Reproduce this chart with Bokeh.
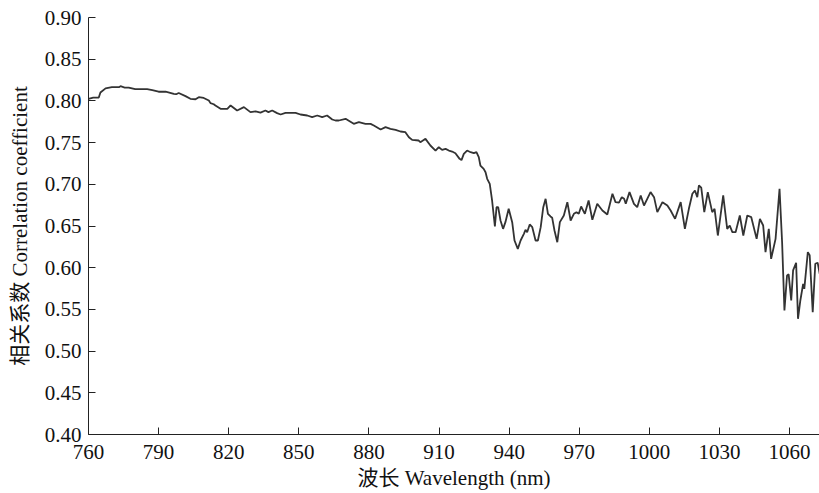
from bokeh.plotting import figure
from bokeh.models import Range1d, FixedTicker, NumeralTickFormatter
from bokeh.embed import file_html
from bokeh.resources import INLINE

wavelength = [
    760.0, 762.0, 764.4, 765.1, 767.3, 770.0, 773.0, 773.7, 775.5, 777.2,
    780.0, 785.1, 787.3, 790.0, 793.0, 796.5, 797.5, 798.6, 801.5, 803.6,
    805.8, 807.2, 809.3, 811.5, 812.2, 813.6, 814.3, 816.5, 819.4, 820.8,
    823.6, 826.5, 829.3, 831.5, 833.6, 835.7, 837.0, 838.6, 840.7, 842.2,
    844.3, 848.6, 850.7, 853.6, 855.7, 857.9, 860.0, 862.1, 864.3, 865.7,
    867.1, 870.0, 873.5, 875.7, 878.5, 880.7, 882.1, 885.0, 887.1, 889.2,
    891.4, 893.5, 895.6, 897.1, 898.5, 901.3, 902.0, 904.2, 906.3, 908.5,
    909.9, 911.3, 912.8, 914.2, 915.6, 917.0, 918.8, 919.6, 920.6, 922.0,
    923.5, 924.9, 926.0, 927.0, 927.7, 929.1, 929.9, 930.6, 931.7, 932.7,
    933.9, 934.6, 935.3, 936.3, 937.4, 938.4, 939.8, 941.3, 942.3, 943.7,
    944.9, 946.3, 947.0, 947.7, 948.8, 949.9, 951.3, 952.3, 953.5, 954.6,
    955.6, 956.6, 957.7, 958.4, 959.4, 960.6, 961.7, 963.4, 964.9, 966.3,
    967.7, 968.8, 969.8, 970.8, 972.4, 974.0, 975.6, 977.7, 979.9, 982.0,
    984.2, 985.5, 987.0, 988.2, 989.2, 989.9, 991.5, 993.4, 994.8, 996.3,
    997.7, 999.1, 1000.5, 1002.0, 1003.4, 1005.6, 1007.7, 1009.1, 1011.0, 1013.4,
    1015.2, 1016.9, 1018.4, 1019.5, 1020.5, 1021.2, 1022.2, 1023.5, 1025.0, 1026.9,
    1027.9, 1029.3, 1031.6, 1033.3, 1034.4, 1035.5, 1036.9, 1038.7, 1040.2, 1041.9,
    1043.6, 1045.9, 1047.3, 1048.7, 1049.7, 1051.1, 1052.1, 1054.0, 1055.7, 1056.8,
    1057.8, 1058.9, 1059.6, 1060.7, 1061.5, 1062.8, 1063.6, 1064.6, 1065.8, 1066.3,
    1067.8, 1068.6, 1069.9, 1071.0, 1072.0, 1072.9,
]

correlation = [
    0.8025, 0.8040, 0.8040, 0.8100, 0.8150, 0.8164, 0.8164, 0.8176, 0.8160, 0.8160,
    0.8140, 0.8140, 0.8130, 0.8110, 0.8110, 0.8085, 0.8080, 0.8095, 0.8057, 0.8025,
    0.8020, 0.8045, 0.8035, 0.8005, 0.7973, 0.7960, 0.7945, 0.7905, 0.7905, 0.7945,
    0.7885, 0.7925, 0.7865, 0.7875, 0.7860, 0.7885, 0.7865, 0.7885, 0.7853, 0.7837,
    0.7857, 0.7857, 0.7837, 0.7825, 0.7805, 0.7825, 0.7805, 0.7825, 0.7777, 0.7765,
    0.7765, 0.7785, 0.7725, 0.7745, 0.7725, 0.7725, 0.7705, 0.7657, 0.7685, 0.7665,
    0.7653, 0.7633, 0.7625, 0.7565, 0.7533, 0.7525, 0.7505, 0.7545, 0.7465, 0.7405,
    0.7445, 0.7413, 0.7425, 0.7405, 0.7393, 0.7373, 0.7305, 0.7290, 0.7365, 0.7405,
    0.7385, 0.7373, 0.7385, 0.7325, 0.7225, 0.7185, 0.7145, 0.7066, 0.7006, 0.6806,
    0.6494, 0.6725, 0.6727, 0.6566, 0.6466, 0.6546, 0.6706, 0.6546, 0.6326, 0.6226,
    0.6326, 0.6406, 0.6454, 0.6426, 0.6518, 0.6486, 0.6326, 0.6326, 0.6486, 0.6725,
    0.6826, 0.6646, 0.6614, 0.6600, 0.6446, 0.6306, 0.6546, 0.6626, 0.6786, 0.6566,
    0.6646, 0.6666, 0.6646, 0.6734, 0.6646, 0.6806, 0.6574, 0.6766, 0.6686, 0.6638,
    0.6886, 0.6786, 0.6780, 0.6846, 0.6826, 0.6766, 0.6906, 0.6766, 0.6726, 0.6866,
    0.6746, 0.6826, 0.6906, 0.6846, 0.6666, 0.6786, 0.6746, 0.6686, 0.6586, 0.6786,
    0.6466, 0.6706, 0.6886, 0.6926, 0.6846, 0.6986, 0.6960, 0.6666, 0.6906, 0.6666,
    0.6706, 0.6386, 0.6866, 0.6466, 0.6506, 0.6426, 0.6426, 0.6626, 0.6386, 0.6626,
    0.6606, 0.6346, 0.6586, 0.6506, 0.6186, 0.6466, 0.6106, 0.6346, 0.6946, 0.6306,
    0.5487, 0.5907, 0.5920, 0.5607, 0.5967, 0.6059, 0.5387, 0.5607, 0.5807, 0.5747,
    0.6186, 0.6150, 0.5467, 0.6047, 0.6060, 0.5927,
]

x_ticks = [760, 790, 820, 850, 880, 910, 940, 970, 1000, 1030, 1060]
y_ticks = [0.40, 0.45, 0.50, 0.55, 0.60, 0.65, 0.70, 0.75, 0.80, 0.85, 0.90]

FONT = "'Liberation Serif', 'Times New Roman', 'Noto Sans CJK SC', serif"

p = figure(width=819, height=493, output_backend="svg", toolbar_location=None,
           x_range=Range1d(760, 1072.8), y_range=Range1d(0.40, 0.90),
           min_border_left=88, min_border_right=0, min_border_top=17,
           min_border_bottom=59)
p.outline_line_color = None
p.grid.visible = False
p.background_fill_color = "white"
p.border_fill_color = "white"

p.line(wavelength, correlation, line_color="#333333", line_width=1.8)

for ax in (p.xaxis[0], p.yaxis[0]):
    ax.major_tick_in = 7
    ax.major_tick_out = 0
    ax.minor_tick_line_color = None
    ax.axis_line_color = "#222222"
    ax.major_tick_line_color = "#222222"
    ax.major_label_text_font = FONT
    ax.major_label_text_font_size = "21px"
    ax.major_label_text_color = "#111111"
    ax.axis_label_text_font = FONT
    ax.axis_label_text_font_size = "21px"
    ax.axis_label_text_font_style = "normal"
    ax.axis_label_text_color = "#111111"

p.xaxis.ticker = FixedTicker(ticks=x_ticks)
p.yaxis.ticker = FixedTicker(ticks=y_ticks)
p.yaxis.formatter = NumeralTickFormatter(format="0.00")
p.xaxis.axis_label = "波长 Wavelength (nm)"
p.yaxis.axis_label = "相关系数 Correlation coefficient"
p.xaxis.major_label_standoff = 10
p.yaxis.major_label_standoff = 7
p.xaxis.axis_label_standoff = 4
p.yaxis.axis_label_standoff = 10

open("out.html", "w").write(file_html(p, INLINE))
